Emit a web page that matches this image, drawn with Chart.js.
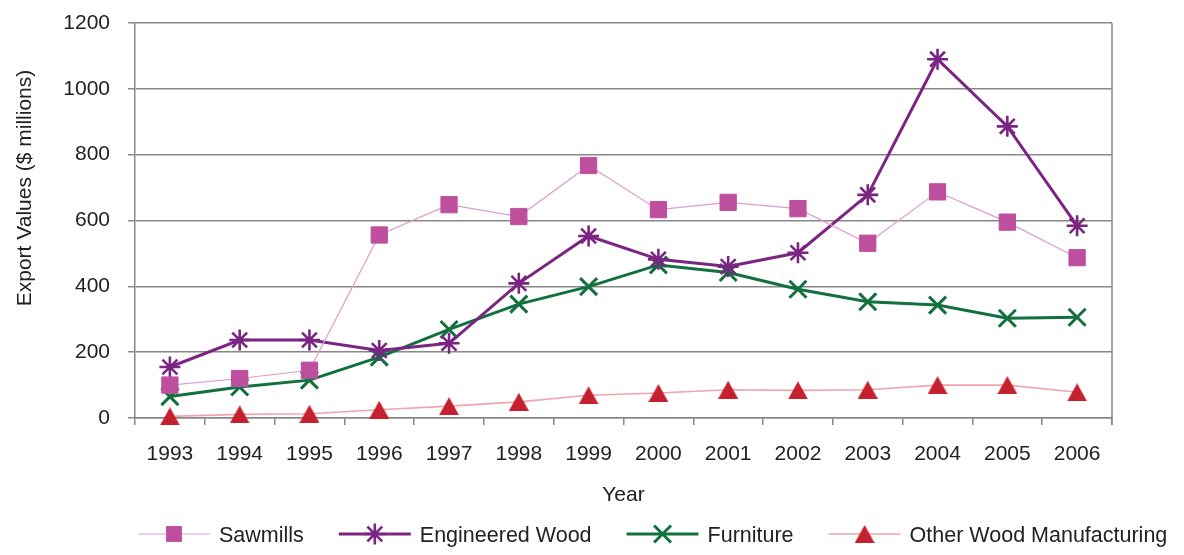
<!DOCTYPE html>
<html>
<head>
<meta charset="utf-8">
<title>Wood product export values, 1993–2006</title>
<script src="https://cdn.jsdelivr.net/npm/chart.js@4/dist/chart.umd.min.js"></script>
<style>
  html, body { margin: 0; padding: 0; background: #ffffff; }
  #wrap { width: 1184px; height: 555px; }
</style>
</head>
<body>
<div id="wrap"><canvas id="chart" width="1184" height="555"></canvas></div>
<script>
// Years on the category axis
const years = ['1993', '1994', '1995', '1996', '1997', '1998', '1999',
               '2000', '2001', '2002', '2003', '2004', '2005', '2006'];

// Export values, $ millions
const sawmills      = [100, 120, 145, 556, 648, 612, 767, 633, 655, 636, 531, 687, 595, 487];
const engineered    = [155, 237, 237, 205, 227, 409, 553, 482, 460, 502, 678, 1090, 886, 584];
const furniture     = [65, 94, 115, 185, 269, 346, 399, 465, 442, 391, 353, 343, 303, 306];
const otherWood     = [5, 11, 13, 25, 36, 49, 69, 76, 86, 84, 86, 100, 100, 78];

const seriesNames = ['Sawmills', 'Engineered Wood', 'Furniture', 'Other Wood Manufacturing'];

// Value axis range
const yMin = 0, yMax = 1200, yStep = 200;

// Prefer a condensed sans face when one is installed
function fontInstalled(name) {
  const g = document.createElement('canvas').getContext('2d');
  const probe = 'Wood Manufacturing 1993';
  g.font = '40px monospace';
  const base = g.measureText(probe).width;
  g.font = "40px '" + name + "', monospace";
  return Math.abs(g.measureText(probe).width - base) > 0.5;
}
const NARROW = fontInstalled('Liberation Sans Narrow');
const FONT = NARROW
  ? "'Liberation Sans Narrow', 'Liberation Sans', Arial, sans-serif"
  : "'Liberation Sans', Arial, Helvetica, sans-serif";
const SIZE_TICK   = NARROW ? 25 : 21;
const SIZE_TITLE  = NARROW ? 25 : 21;
const SIZE_LEGEND = NARROW ? 25.5 : 21.5;

const TEXT = '#222222';
const GRID = '#888888';

// Filled triangle marker, centred on its bounding box
function triangleMarker(w, h, color) {
  const c = document.createElement('canvas');
  c.width = w; c.height = h;
  const g = c.getContext('2d');
  g.fillStyle = color;
  g.beginPath();
  g.moveTo(w / 2, 0);
  g.lineTo(w, h);
  g.lineTo(0, h);
  g.closePath();
  g.fill();
  return c;
}
const triMark = triangleMarker(20, 18, '#c4202e');

const datasets = [
  {
    label: seriesNames[0], data: sawmills,
    borderColor: '#e09ad0', borderWidth: 1.2,
    pointStyle: 'rect', pointRadius: 11.5, pointHoverRadius: 11.5,
    pointBackgroundColor: '#bd4f9e', pointBorderColor: '#bd4f9e', pointBorderWidth: 1
  },
  {
    label: seriesNames[1], data: engineered,
    borderColor: '#7b2582', borderWidth: 3,
    pointStyle: 'star', pointRadius: 10.5, pointHoverRadius: 10.5,
    pointBackgroundColor: '#7b2582', pointBorderColor: '#7b2582', pointBorderWidth: 2.6
  },
  {
    label: seriesNames[2], data: furniture,
    borderColor: '#12703f', borderWidth: 3,
    pointStyle: 'crossRot', pointRadius: 12, pointHoverRadius: 12,
    pointBackgroundColor: '#12703f', pointBorderColor: '#12703f', pointBorderWidth: 3
  },
  {
    label: seriesNames[3], data: otherWood,
    borderColor: '#f0a4ad', borderWidth: 1.6,
    pointStyle: triMark, pointRadius: 10, pointHoverRadius: 10,
    pointBackgroundColor: '#c4202e', pointBorderColor: '#c4202e', pointBorderWidth: 0
  }
];
datasets.forEach(d => { d.tension = 0; d.fill = false; d.clip = false; });

// Frame line on the right, rotated value-axis title and a line+marker legend
const decorations = {
  id: 'decorations',
  afterDraw(chart) {
    const ctx = chart.ctx;
    const area = chart.chartArea;
    ctx.save();

    // right edge of the plot frame
    ctx.strokeStyle = GRID;
    ctx.lineWidth = 1.5;
    ctx.beginPath();
    ctx.moveTo(area.right, area.top);
    ctx.lineTo(area.right, area.bottom + 7);
    ctx.stroke();

    // value axis title
    ctx.fillStyle = TEXT;
    ctx.font = SIZE_TITLE + 'px ' + FONT;
    ctx.textAlign = 'center';
    ctx.textBaseline = 'middle';
    ctx.translate(25, 188);
    ctx.rotate(-Math.PI / 2);
    ctx.fillText('Export Values ($ millions)', 0, 0);
    ctx.setTransform(1, 0, 0, 1, 0, 0);

    // legend
    const lineLen = 72, textGap = 9, itemGap = 35, legendY = 534;
    ctx.font = SIZE_LEGEND + 'px ' + FONT;
    let x = area.left + 3;
    chart.data.datasets.forEach((ds) => {
      ctx.strokeStyle = ds.borderColor;
      ctx.lineWidth = ds.borderWidth;
      ctx.beginPath();
      ctx.moveTo(x, legendY);
      ctx.lineTo(x + lineLen, legendY);
      ctx.stroke();

      const style = {
        pointStyle: ds.pointStyle,
        radius: ds.pointStyle === 'rect' ? 10.5 : ds.pointRadius,
        rotation: 0,
        borderWidth: ds.pointBorderWidth
      };
      ctx.fillStyle = ds.pointBackgroundColor;
      ctx.strokeStyle = ds.pointBorderColor;
      ctx.lineWidth = ds.pointBorderWidth;
      if (ds.pointStyle instanceof HTMLCanvasElement) {
        ctx.drawImage(ds.pointStyle, x + lineLen / 2 - ds.pointStyle.width / 2,
                      legendY - ds.pointStyle.height / 2);
      } else {
        Chart.helpers.drawPoint(ctx, style, x + lineLen / 2, legendY);
      }

      ctx.fillStyle = TEXT;
      ctx.textAlign = 'left';
      ctx.textBaseline = 'middle';
      const tx = x + lineLen + textGap;
      ctx.fillText(ds.label, tx, legendY + 2);
      x = tx + ctx.measureText(ds.label).width + itemGap;
    });
    ctx.restore();
  }
};

new Chart(document.getElementById('chart'), {
  type: 'line',
  data: { labels: years, datasets: datasets },
  plugins: [decorations],
  options: {
    responsive: false,
    animation: false,
    events: [],
    layout: { padding: { top: 23, right: 72, bottom: 45, left: 0 } },
    plugins: {
      legend: { display: false },
      tooltip: { enabled: false },
      title: { display: false }
    },
    scales: {
      x: {
        type: 'category',
        offset: true,
        grid: {
          display: true, offset: true, drawOnChartArea: false,
          drawTicks: true, tickLength: 7, color: GRID, lineWidth: 1.5
        },
        border: { display: true, color: GRID, width: 1.5 },
        ticks: {
          color: TEXT, padding: NARROW ? 14 : 17, maxRotation: 0, autoSkip: false,
          font: { family: FONT, size: SIZE_TICK }
        },
        title: {
          display: true, text: 'Year', color: TEXT,
          font: { family: FONT, size: SIZE_TITLE },
          padding: { top: 0, bottom: NARROW ? 0 : 2 }
        },
        afterFit(scale) {
          scale.height = 92;
          scale.paddingLeft = 0;
          scale.paddingRight = 0;
        }
      },
      y: {
        min: yMin, max: yMax,
        grid: {
          color: GRID, lineWidth: 1.5, drawTicks: true, tickLength: 7
        },
        border: { display: true, color: GRID, width: 1.5 },
        ticks: {
          stepSize: yStep, color: TEXT, padding: 18,
          font: { family: FONT, size: SIZE_TICK },
          callback: (v) => String(v)
        },
        afterFit(scale) {
          scale.width = 135;
          scale.paddingTop = 0;
          scale.paddingBottom = 0;
        }
      }
    }
  }
});
</script>
</body>
</html>
